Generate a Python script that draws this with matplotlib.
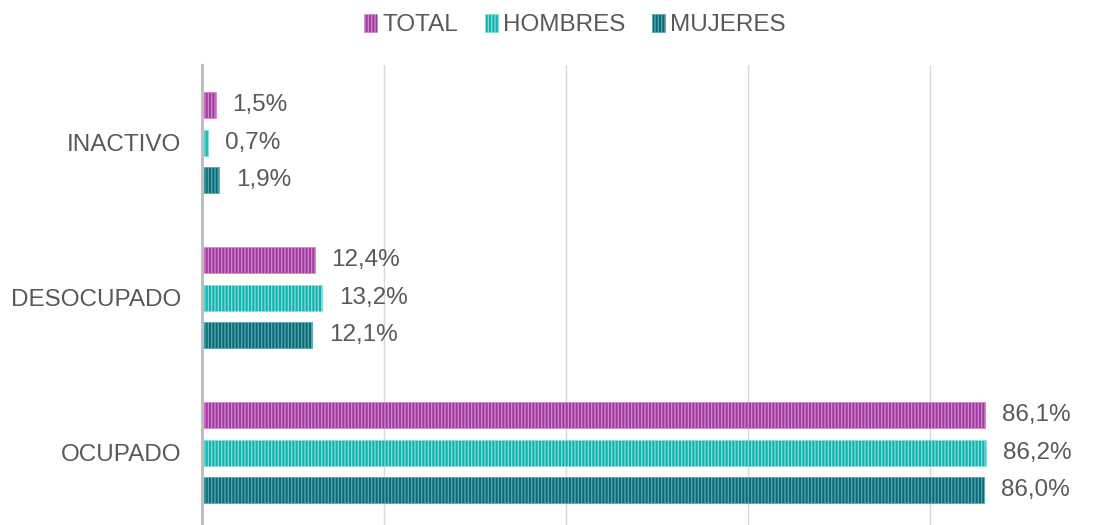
import matplotlib.pyplot as plt
import numpy as np

plt.rcParams['font.family'] = ['Liberation Sans', 'DejaVu Sans']
plt.rcParams['hatch.linewidth'] = 0.9

categories = ["INACTIVO", "DESOCUPADO", "OCUPADO"]
series = ["TOTAL", "HOMBRES", "MUJERES"]
total = [1.5, 12.4, 86.1]
hombres = [0.7, 13.2, 86.2]
mujeres = [1.9, 12.1, 86.0]

faces = ['#A03A9C', '#12B0AB', '#0B6A78']
stripes = ['#D48AD1', '#85E0DC', '#5AA9B3']
text_color = '#595959'

fig = plt.figure(figsize=(10.99, 5.25), dpi=100)
ax = fig.add_axes([202 / 1099, 0, 1 - 202 / 1099, 1 - 65 / 525])

y = np.arange(len(categories))
offsets = [-0.242, 0, 0.242]
height = 0.168

for vals, name, off, fc, sc in zip([total, hombres, mujeres], series, offsets, faces, stripes):
    bars = ax.barh(y + off, vals, height=height, color=fc, edgecolor=sc,
                   linewidth=0.6, hatch='|||||', label=name)
    for b, v in zip(bars, vals):
        ax.annotate(f"{v:.1f}%".replace('.', ','), (b.get_width(), b.get_y() + b.get_height() / 2),
                    xytext=(12, 0), textcoords='offset points', va='center', ha='left',
                    fontsize=17.5, color=text_color)

ax.set_xlim(0, 98.6)
ax.set_ylim(2.465, -0.503)
ax.set_xticks([0, 20, 40, 60, 80])
ax.tick_params(axis='x', length=0, labelbottom=False)
ax.set_yticks(y)
ax.set_yticklabels(categories, fontsize=17.5, color=text_color)
ax.tick_params(axis='y', length=0, pad=15)
ax.grid(axis='x', color='#D9D9D9', linewidth=1.0)
ax.set_axisbelow(True)
for s in ['top', 'right', 'bottom']:
    ax.spines[s].set_visible(False)
ax.spines['left'].set_color('#BFBFBF')
ax.spines['left'].set_linewidth(2.2)
ax.spines['left'].set_zorder(5)

fig.legend(loc='upper center', bbox_to_anchor=(575 / 1099, 1.015), ncol=3, frameon=False,
           fontsize=17.5, handlelength=0.55, handleheight=0.75, handletextpad=0.2,
           columnspacing=1.1, labelcolor=text_color)

fig.savefig('out.png', dpi=100)
